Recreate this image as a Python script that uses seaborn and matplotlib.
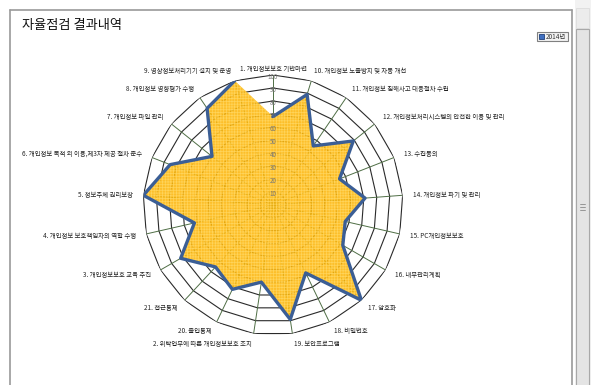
import numpy as np
import pandas as pd
import matplotlib
matplotlib.use("Agg")
import matplotlib.pyplot as plt
import seaborn as sns
from matplotlib.patches import Rectangle

# ---- data ----
categories = [
    "1. 개인정보보호 기반마련",
    "10. 개인정보 노출방지 및 자동 개선",
    "11. 개인정보 침해사고 대응절차 수립",
    "12. 개인정보처리시스템의 안전한 이용 및 관리",
    "13. 수집동의",
    "14. 개인정보 파기 및 관리",
    "15. PC개인정보보호",
    "16. 내부관리계획",
    "17. 암호화",
    "18. 비밀번호",
    "19. 보안프로그램",
    "2. 위탁업무에 따른 개인정보보호 조치",
    "20. 출입통제",
    "21. 접근통제",
    "3. 개인정보보호 교육 추진",
    "4. 개인정보 보호책임자의 역할 수행",
    "5. 정보주체 권리보장",
    "6. 개인정보 목적 외 이용,제3자 제공 절차 준수",
    "7. 개인정보 파일 관리",
    "8. 개인정보 영향평가 수행",
    "9. 영상정보처리기기 설치 및 운영",
]
values_2014 = [68, 89, 55, 79, 55, 71, 57, 62, 100, 58, 89, 60, 72, 65, 82, 62, 100, 85, 60, 90, 100]
ring_ticks = [10, 20, 30, 40, 50, 60, 70, 80, 90, 100]
series_name = "2014년"
title = "자율점검 결과내역"

sns.set_style("white")
plt.rcParams["font.family"] = ["Noto Sans CJK KR", "DejaVu Sans"]
plt.rcParams["hatch.color"] = "#FFD45A"
plt.rcParams["hatch.linewidth"] = 0.5

W, H = 597, 385
fig = plt.figure(figsize=(W / 100, H / 100), dpi=100)
fig.patch.set_facecolor("white")

# background / frame axes in pixel coordinates
bg = fig.add_axes([0, 0, 1, 1], zorder=0)
bg.set_xlim(0, W)
bg.set_ylim(H, 0)
bg.axis("off")
frame_c = "#9a9a9a"
bg.plot([10, 10], [10, H], color=frame_c, lw=1.2)
bg.plot([10, 572], [10, 10], color=frame_c, lw=1.2)
bg.plot([572, 572], [10, H], color=frame_c, lw=1.2)
# scrollbar
bg.add_patch(Rectangle((575, 0), 16, H, facecolor="#f2f2f2", edgecolor="none"))
bg.add_patch(Rectangle((576, 8), 13, 20, facecolor="#ececec", edgecolor="#dddddd", lw=0.6))
bg.add_patch(Rectangle((576, 29), 13, H, facecolor="#e4e4e4", edgecolor="#a8a8a8", lw=0.8))
for yy in (204, 207, 210):
    bg.plot([580, 585], [yy, yy], color="#8a8a8a", lw=0.6)
bg.text(22, 26, title, fontsize=9.5, color="#111111", va="center", ha="left")
# legend
bg.add_patch(Rectangle((537, 32), 31, 9, facecolor="#f2f2f2", edgecolor="#808080", lw=0.8))
bg.add_patch(Rectangle((539, 34), 5, 5, facecolor="#3f6fc0", edgecolor="#1f3f7a", lw=0.6))
bg.text(545.5, 36.8, series_name, fontsize=4.6, color="#333333", va="center", ha="left")

# ---- radar ----
cx, cy, R = 273, 205, 130
ax = fig.add_axes([(cx - R) / W, (H - cy - R) / H, 2 * R / W, 2 * R / H],
                  projection="polar", zorder=1)
ax.set_facecolor("none")
ax.set_theta_zero_location("N")
ax.set_theta_direction(-1)
ax.set_ylim(0, 100)

n = len(categories)
theta = np.linspace(0, 2 * np.pi, n, endpoint=False)
theta_c = np.append(theta, theta[0])

# polygon rings
for t in ring_ticks:
    ax.plot(theta_c, [t] * (n + 1), color="#2a2a2a", lw=0.8, zorder=1)
# spokes
for th in theta:
    ax.plot([th, th], [0, 100], color="#4f6e45", lw=0.7, zorder=1)

vals_c = np.append(values_2014, values_2014[0])
df = pd.DataFrame({"theta": theta_c, "value": vals_c, "series": series_name})
ax.fill(theta_c, vals_c, facecolor="#FDB70C", alpha=0.88, edgecolor="none", zorder=2)
ax.fill(theta_c, vals_c, facecolor="none", edgecolor="#FFD45A", lw=0, hatch="++++++", zorder=2)
sns.lineplot(data=df, x="theta", y="value", sort=False, ax=ax, color="#3B5E95",
             lw=2.4, legend=False, zorder=3)

# radial tick labels
for t in ring_ticks:
    ax.text(0, t - 1.5, str(t), fontsize=4.5, color="#777777", ha="center", va="center", zorder=4)

# category labels
for th, lab in zip(theta, categories):
    deg = np.degrees(th)
    if deg == 0:
        ax.text(th, 105, lab, fontsize=4.6, ha="center", va="center", color="#222222")
    else:
        ha = "left" if deg < 180 else "right"
        ax.text(th, 108, lab, fontsize=4.6, ha=ha, va="center", color="#222222")

ax.set_xlabel("")
ax.set_ylabel("")
ax.axis("off")

fig.savefig("out.png", dpi=100)
